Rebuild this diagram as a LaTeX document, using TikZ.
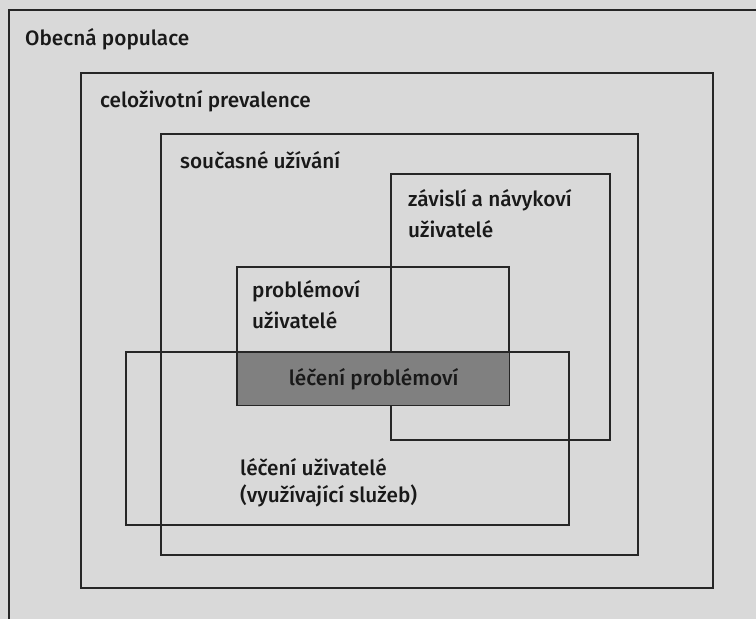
\documentclass[tikz,border=0pt]{standalone}
\usepackage{fontspec}
\setmainfont{Fira Sans}[UprightFont={* Medium}]
\usetikzlibrary{positioning}

\begin{document}
\begin{tikzpicture}[
	% pixel grid, y downwards:
	x=1pt, y=-1pt,
	box/.style={draw=black!85,line width=1.3pt},
	dark/.style={box,fill=black!50},
	lbl/.style={anchor=base west,inner sep=0pt,align=left,text=black!90,
		font=\fontsize{20.8}{31}\selectfont},
	]
	
	% background
	\fill[black!15] (0,0) rectangle (756,619);
	\useasboundingbox (0,0) rectangle (756,619);
	
	%
	% nested populations
	%
	\draw[box] (9,619) -- (9,10) -- (756,10);   % cut by the page edge
	\draw[box] (81,73) rectangle (713,588);
	\draw[box] (161,134) rectangle (638,555);
	\draw[box] (391,174) rectangle (610,440);
	\draw[box] (126,352) rectangle (569,525);
	\draw[box] (237,267) rectangle (509,405);
	% overlap of problem users and treated users
	\node[dark,anchor=north west,inner sep=0pt,minimum width=272pt,minimum height=53pt,
		text=black!90,font=\fontsize{20.8}{31}\selectfont] (treatprob) at (237,352) {léčení problémoví};
	
	%
	% labels (base = last line)
	%
	\node[lbl] (pop) at (25,45) {Obecná populace};
	\node[lbl] (life) at (100,107) {celoživotní prevalence};
	\node[lbl] (curr) at (180,168) {současné užívání};
	\node[lbl] (dep) at (408,237) {závislí a návykoví\\uživatelé};
	\node[lbl] (prob) at (252,328) {problémoví\\uživatelé};
	\node[lbl,font=\fontsize{20.8}{27}\selectfont] (treat) at (240,502) {léčení uživatelé\\(využívající služeb)};
\end{tikzpicture}
\end{document}
